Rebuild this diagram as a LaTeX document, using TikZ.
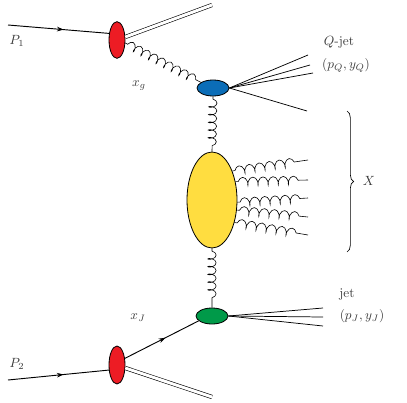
\documentclass[tikz,border=0pt]{standalone}
\usepackage{xcolor}
\usetikzlibrary{positioning, arrows.meta, shapes.geometric, decorations.pathmorphing, decorations.pathreplacing, decorations.markings}
\definecolor{RedA}{HTML}{ED1C24}
\definecolor{BlueA}{HTML}{0B6DB7}
\definecolor{YellowA}{HTML}{FFDD40}
\definecolor{GreenA}{HTML}{009A49}
\definecolor{GrayA}{HTML}{3A3A3A}
\tikzset{
  blob/.style={ellipse, draw=black, line width=0.6pt, inner sep=0pt},
  pdf/.style={blob, fill=RedA, minimum width=12pt, minimum height=27.5pt},
  hard/.style={blob, minimum width=24pt, minimum height=12pt},
  soft/.style={blob, fill=YellowA, minimum width=37.5pt, minimum height=72pt},
  fermion/.style={line width=0.7pt},
  midarrow/.style={fermion, postaction={decorate},
    decoration={markings, mark=at position 0.55 with {\arrow{Stealth[length=5pt, width=3.5pt]}}}},
  remnant/.style={double, double distance=2.2pt, line width=0.45pt},
  gluon/.style={decorate, line width=0.45pt,
    decoration={coil, aspect=0.5, amplitude=3.1pt, segment length=#1,
                pre length=2pt, post length=3pt}},
  gluon/.default=5.8pt,
  jetline/.style={line width=0.55pt},
  lbl/.style={text=GrayA, inner sep=1pt},
}

\begin{document}
\begin{tikzpicture}[x=0.75pt, y=-0.75pt]
  \useasboundingbox (0,0) rectangle (407,403);

  % ---- blobs ----
  \node[pdf] (pdfa) at (117,40)  {};
  \node[pdf, minimum height=28.5pt] (pdfb) at (117,365) {};
  \node[hard, fill=BlueA]  (qvtx) at (213,88)  {};
  \node[soft]              (mpi)  at (212,200) {};
  \node[hard, fill=GreenA] (jvtx) at (212,316) {};

  % ---- incoming protons and remnants ----
  \coordinate (p1in) at (8,25);
  \coordinate (p2in) at (8,380);
  \coordinate (rema) at (212,5);
  \coordinate (remb) at (212,397);
  \draw[midarrow] (p1in) -- (pdfa.140);
  \draw[midarrow] (p2in) -- (pdfb.212);
  \draw[remnant] (pdfa.20)  -- (rema);
  \draw[remnant] (pdfb.-20) -- (remb);

  % ---- partons into the hard vertices ----
  \draw[gluon=6.4pt] (pdfa.-20) -- (qvtx.155);
  \draw[midarrow] (pdfb.40) -- (jvtx.200);
  \draw[gluon] (qvtx.south) -- (mpi.north);
  \draw[gluon] (mpi.south) -- (jvtx.north);

  % ---- Q-jet ----
  \foreach \n/\y/\x in {1/55/308, 2/65/310, 3/73/313, 4/111/307}
    \coordinate (qj\n) at (\x,\y);
  \foreach \n in {1,...,4}
    \draw[jetline] (qvtx.east) -- (qj\n);

  % ---- jet ----
  \foreach \n/\y in {1/308, 2/317, 3/326}
    \coordinate (jj\n) at (323,\y);
  \foreach \n in {1,2,3}
    \draw[jetline] (jvtx.east) -- (jj\n);

  % ---- radiated gluons X ----
  \foreach \n/\a/\y in {1/55/160, 2/38/180, 3/-5/198, 4/-22/217, 5/-45/235}{
    \coordinate (gx\n) at (308,\y);
    \draw[gluon=7.6pt] (mpi.\a) -- (gx\n);
  }
  \coordinate (brt) at (347,111);
  \coordinate (brb) at (347,252);
  \draw[line width=0.5pt, decorate, decoration={brace, amplitude=5pt}] (brt) -- (brb);

  % ---- labels ----
  \node[lbl] (lp1) at (17,41)   {$P_1$};
  \node[lbl] (lp2) at (17,364)  {$P_2$};
  \node[lbl] (lxg) at (139,86)  {$x_g$};
  \node[lbl] (lxj) at (138,318) {$x_J$};
  \node[lbl] (lqj) at (339,42)  {$Q$-jet};
  \node[lbl] (lqk) at (346,65)  {$(p_Q,y_Q)$};
  \node[lbl] (lx)  at (369,181) {$X$};
  \node[lbl] (ljt) at (347,294) {jet};
  \node[lbl] (ljk) at (362,316) {$(p_J,y_J)$};
\end{tikzpicture}
\end{document}
